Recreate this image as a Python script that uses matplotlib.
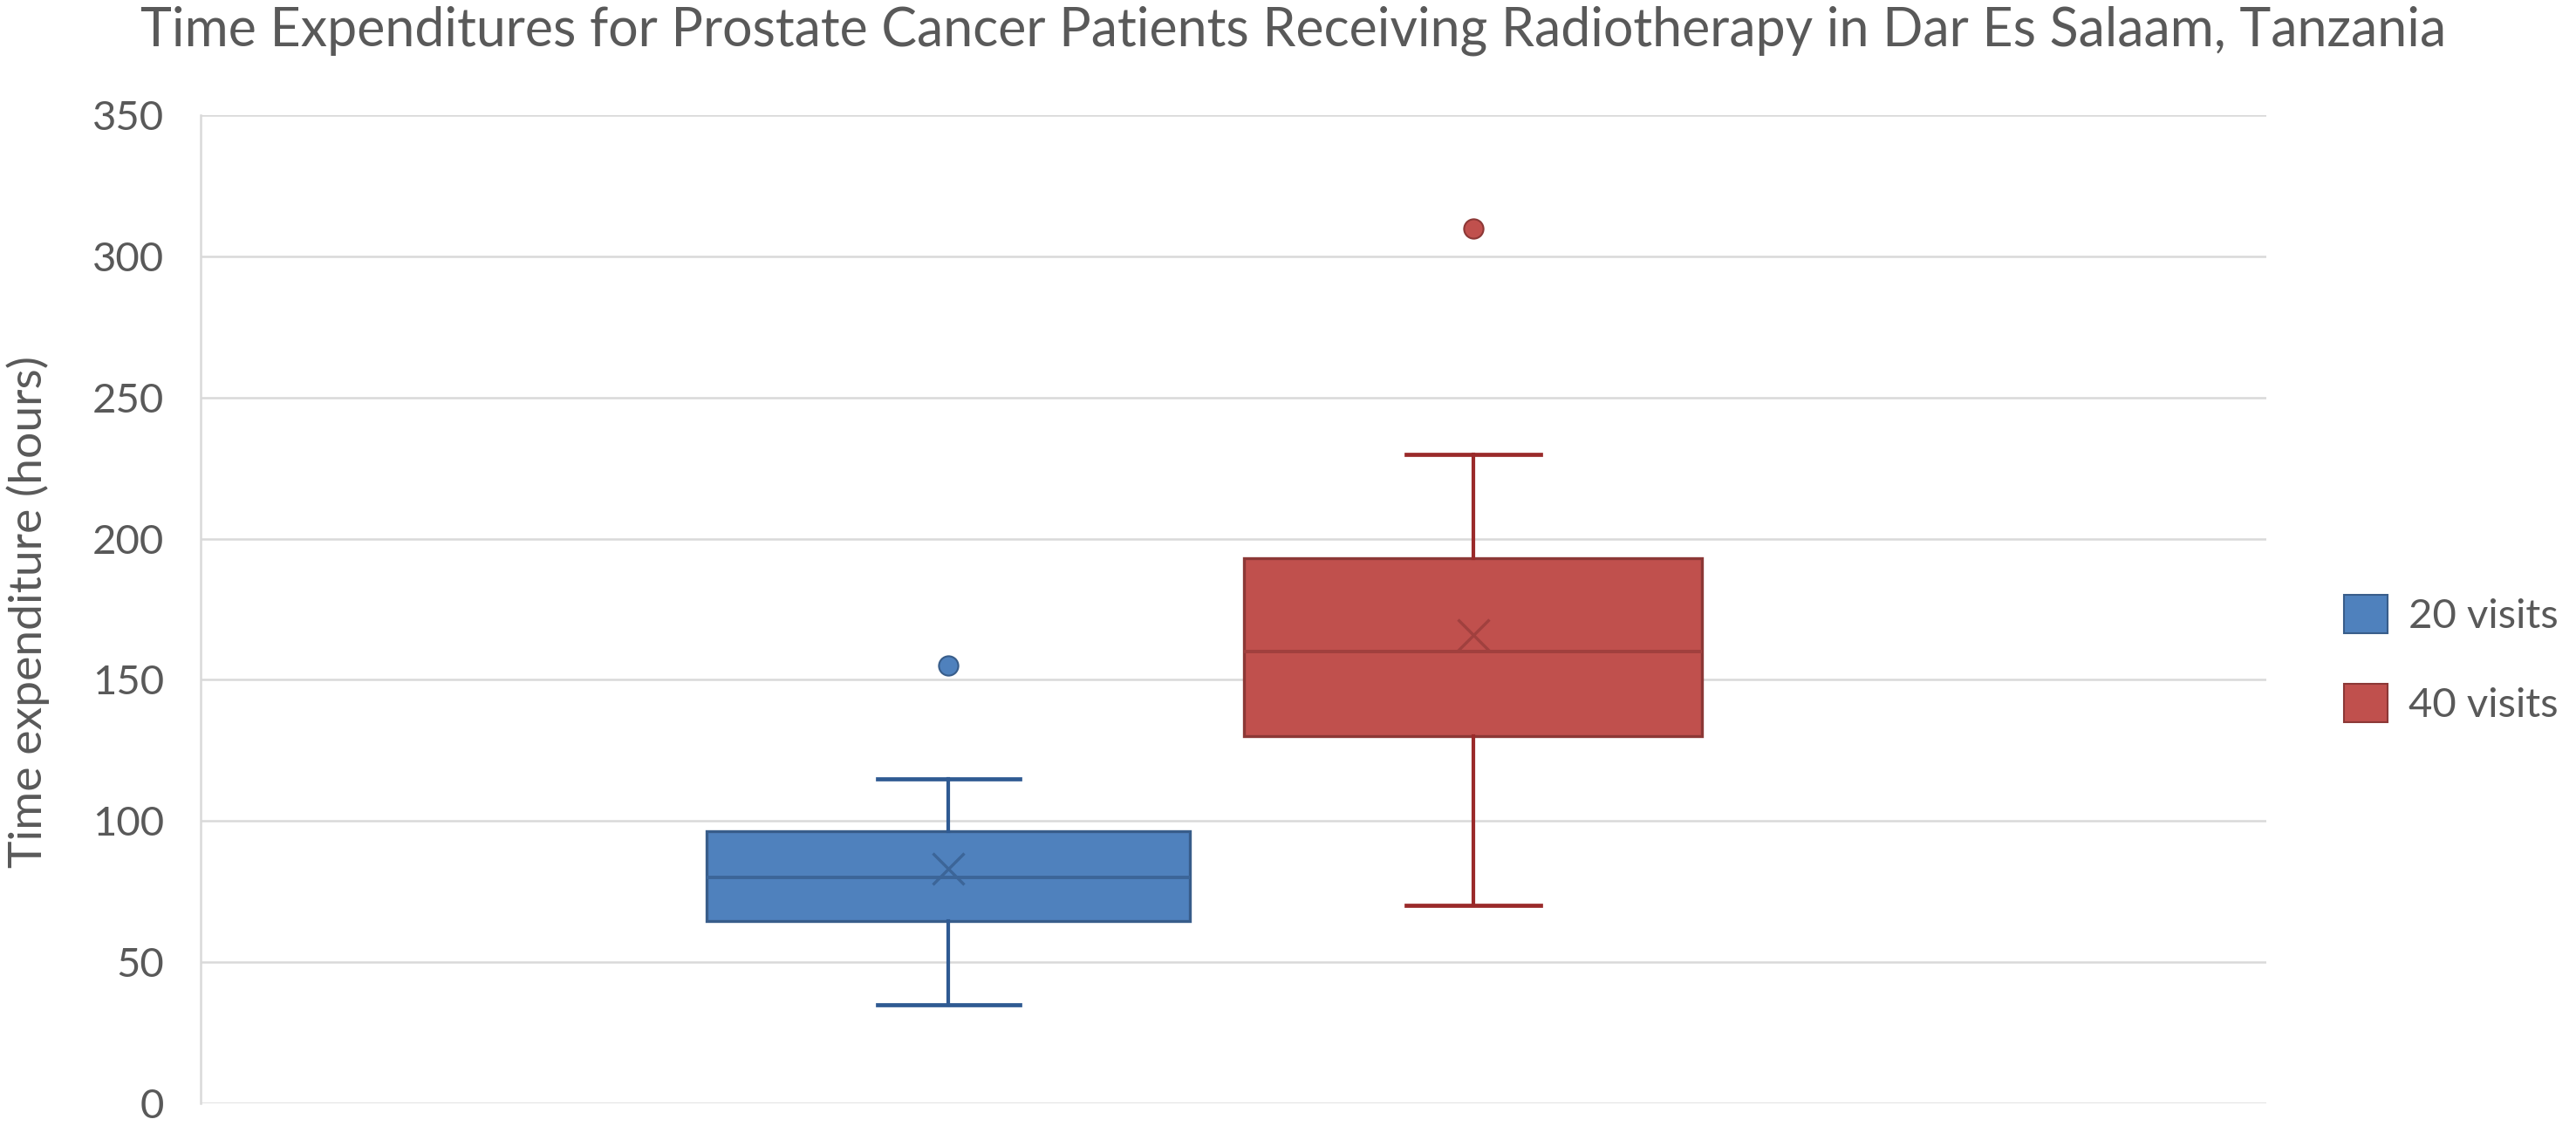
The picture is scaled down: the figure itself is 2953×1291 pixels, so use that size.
import matplotlib
matplotlib.use('Agg')
import matplotlib.pyplot as plt
from matplotlib.patches import Patch

plt.rcParams['font.family'] = ['Lato', 'DejaVu Sans']

# box & whisker summary (hours)
series_names = ['20 visits', '40 visits']
whisker_low = [35, 70]
q1 = [64.5, 130]
medians = [80, 160]
q3 = [96.5, 193]
whisker_high = [115, 230]
means = [83, 166]
outliers = [[155], [310]]

y_ticks = [0, 50, 100, 150, 200, 250, 300, 350]

title = 'Time Expenditures for Prostate Cancer Patients Receiving Radiotherapy in Dar Es Salaam, Tanzania'
y_label = 'Time expenditure (hours)'

fill_colors = ['#4F81BD', '#C0504D']
edge_colors = ['#385D8A', '#8C3836']
whisk_colors = ['#2F5A92', '#9A2A2A']
inner_colors = ['#3C6598', '#A0403E']
text_color = '#595959'
grid_color = '#D9D9D9'

# layout (axes fraction along x)
positions = [0.362, 0.616]
widths = [0.234, 0.2215]
cap_widths = [0.069, 0.065]

fig = plt.figure(figsize=(29.53, 12.91), dpi=100)
ax = fig.add_axes([0.0779, 0.0201, 0.8019, 0.8776])

for i in range(len(series_names)):
    stats = [{
        'whislo': whisker_low[i], 'q1': q1[i], 'med': medians[i],
        'q3': q3[i], 'whishi': whisker_high[i], 'mean': means[i],
        'fliers': outliers[i], 'label': series_names[i],
    }]
    ax.bxp(
        stats, positions=[positions[i]], widths=[widths[i]],
        capwidths=[cap_widths[i]], patch_artist=True,
        showmeans=True, manage_ticks=False,
        boxprops=dict(facecolor=fill_colors[i], edgecolor=edge_colors[i], linewidth=2.4),
        medianprops=dict(color=inner_colors[i], linewidth=2.8),
        whiskerprops=dict(color=whisk_colors[i], linewidth=3.0),
        capprops=dict(color=whisk_colors[i], linewidth=3.4),
        meanprops=dict(marker='x', markeredgecolor=inner_colors[i],
                       markersize=26, markeredgewidth=2.4),
        flierprops=dict(marker='o', markerfacecolor=fill_colors[i],
                        markeredgecolor=edge_colors[i], markersize=16,
                        markeredgewidth=1.5),
        zorder=3,
    )

ax.set_xlim(0, 1)
ax.set_ylim(0, 350)
ax.set_yticks(y_ticks)
ax.set_xticks([])
ax.grid(axis='y', color=grid_color, linewidth=1.8, zorder=0)
ax.set_axisbelow(True)
for side in ['top', 'right', 'bottom']:
    ax.spines[side].set_visible(False)
ax.spines['left'].set_color(grid_color)
ax.spines['left'].set_linewidth(1.8)
ax.tick_params(axis='y', length=0, pad=30, labelsize=34, labelcolor=text_color)

fig.text(0.0024, 0.457, y_label, rotation=90, ha='left', va='center',
         fontsize=38.5, color=text_color)

t = fig.text(0.502, 0.959, title, ha='center', va='baseline',
             fontsize=44, color=text_color)
# fit the title width to the reference
fig.canvas.draw()
w = t.get_window_extent(fig.canvas.get_renderer()).width
t.set_fontsize(44 * 2646 / w)

handles = [Patch(facecolor=fill_colors[i], edgecolor=edge_colors[i], linewidth=1.5)
           for i in range(len(series_names))]
fig.legend(handles, series_names, loc='center left', bbox_to_anchor=(0.9099, 0.4144),
           frameon=False, fontsize=34, labelcolor=text_color, handlelength=1.06,
           handleheight=1.06, handletextpad=0.5, labelspacing=1.2,
           borderpad=0, borderaxespad=0)

fig.savefig('out.png', dpi=100, facecolor='white')
